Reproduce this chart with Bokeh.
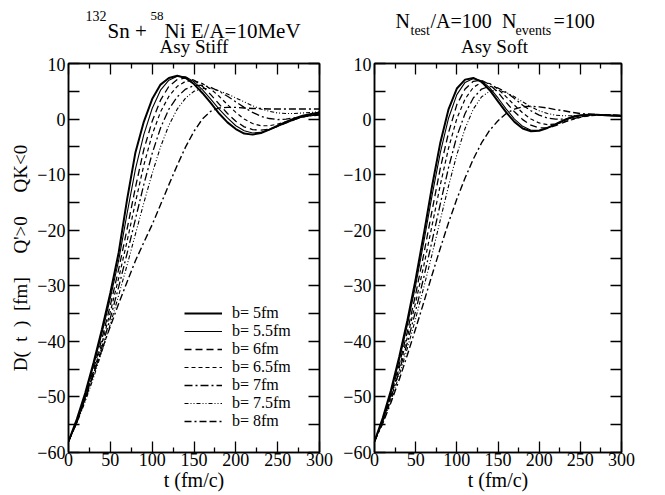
from bokeh.plotting import figure
from bokeh.models import Range1d, FixedTicker, LinearAxis, Label, Legend, LegendItem
from bokeh.layouts import row, column
from bokeh.embed import file_html
from bokeh.resources import INLINE

# ---------------- data ----------------
t = [0, 10, 20, 30, 40, 50, 60, 70, 80, 90, 100, 110, 120, 130, 140, 150,
     160, 170, 180, 190, 200, 210, 220, 230, 240, 250, 260, 270, 280, 290, 300]

impact_labels = ["b= 5fm", "b= 5.5fm", "b= 6fm", "b= 6.5fm", "b= 7fm", "b= 7.5fm", "b= 8fm"]

# Asy Stiff (left panel)
stiff_b50 = [-58.0, -54.0, -49.3, -43.8, -37.8, -31.3, -24.0, -14.5, -6.0, -0.5,
             3.6, 6.2, 7.4, 7.8, 7.4, 6.3, 4.7, 2.9, 1.0, -0.6,
             -1.8, -2.6, -2.8, -2.5, -1.9, -1.2, -0.5, 0.1, 0.6, 0.9, 1.2]
stiff_b55 = [-58.0, -54.2, -49.6, -44.3, -38.5, -32.2, -25.4, -17.0, -9.0, -2.8,
             1.9, 5.2, 7.0, 7.7, 7.6, 6.7, 5.3, 3.6, 1.8, 0.2,
             -1.2, -2.1, -2.5, -2.4, -1.9, -1.3, -0.7, -0.1, 0.4, 0.7, 1.0]
stiff_b60 = [-58.0, -54.4, -50.0, -45.0, -39.5, -33.5, -27.0, -19.8, -12.3, -5.5,
             -0.4, 3.4, 5.9, 7.1, 7.4, 7.0, 5.9, 4.4, 2.7, 1.0,
             -0.4, -1.4, -1.9, -2.0, -1.8, -1.3, -0.7, -0.1, 0.4, 0.7, 0.9]
stiff_b65 = [-58.0, -54.5, -50.2, -45.5, -40.3, -34.7, -28.6, -22.0, -15.0, -8.3,
             -2.8, 1.3, 4.1, 5.9, 6.8, 6.9, 6.4, 5.4, 4.1, 2.6,
             1.2, 0.0, -0.8, -1.2, -1.2, -0.9, -0.5, 0.0, 0.4, 0.6, 0.8]
stiff_b70 = [-58.0, -54.6, -50.5, -46.0, -41.0, -35.8, -30.2, -24.2, -18.0, -11.8,
             -6.2, -1.6, 1.8, 4.0, 5.4, 6.0, 6.1, 5.7, 5.0, 4.1,
             3.1, 2.1, 1.2, 0.5, 0.1, -0.1, 0.0, 0.2, 0.4, 0.6, 0.7]
stiff_b75 = [-58.0, -54.7, -50.8, -46.5, -41.8, -36.9, -31.7, -26.3, -20.7, -15.1,
             -9.8, -5.0, -1.1, 1.8, 3.8, 5.0, 5.5, 5.5, 5.1, 4.5,
             3.8, 3.1, 2.4, 1.8, 1.4, 1.1, 1.0, 1.0, 1.1, 1.2, 1.3]
stiff_b80 = [-58.0, -54.5, -50.2, -45.8, -41.5, -37.3, -33.2, -29.3, -25.5, -22.2,
             -19.0, -15.4, -11.8, -8.3, -5.0, -2.2, 0.0, 1.4, 2.0, 2.1,
             2.1, 2.0, 1.9, 1.9, 1.8, 1.8, 1.8, 1.8, 1.8, 1.8, 1.8]

# Asy Soft (right panel)
soft_b50 = [-58.0, -53.8, -48.8, -42.8, -36.2, -28.8, -20.6, -12.0, -4.2, 1.8,
            5.5, 7.1, 7.4, 6.7, 5.2, 3.2, 1.2, -0.5, -1.7, -2.2,
            -2.1, -1.6, -0.9, -0.2, 0.4, 0.7, 0.8, 0.8, 0.7, 0.6, 0.6]
soft_b55 = [-58.0, -54.0, -49.2, -43.4, -37.0, -29.9, -22.0, -13.7, -6.0, 0.2,
            4.4, 6.6, 7.3, 6.9, 5.6, 3.8, 1.8, 0.0, -1.3, -2.0,
            -2.0, -1.6, -1.0, -0.3, 0.3, 0.6, 0.8, 0.8, 0.7, 0.6, 0.5]
soft_b60 = [-58.0, -54.2, -49.6, -44.2, -38.2, -31.5, -24.2, -16.4, -8.8, -2.4,
            2.6, 5.4, 6.8, 7.0, 6.2, 4.8, 3.0, 1.3, -0.1, -1.1,
            -1.6, -1.6, -1.2, -0.6, 0.0, 0.4, 0.7, 0.8, 0.8, 0.7, 0.6]
soft_b65 = [-58.0, -54.3, -49.9, -44.8, -39.2, -33.0, -26.3, -19.1, -11.8, -5.2,
            0.1, 3.6, 5.7, 6.6, 6.4, 5.4, 4.0, 2.5, 1.1, 0.0,
            -0.7, -1.0, -0.9, -0.5, -0.1, 0.3, 0.6, 0.7, 0.7, 0.7, 0.6]
soft_b70 = [-58.0, -54.4, -50.2, -45.4, -40.2, -34.5, -28.4, -21.9, -15.2, -8.7,
            -3.1, 1.0, 3.8, 5.4, 5.9, 5.6, 4.8, 3.7, 2.5, 1.5,
            0.7, 0.2, 0.0, 0.0, 0.2, 0.4, 0.6, 0.7, 0.7, 0.7, 0.6]
soft_b75 = [-58.0, -54.6, -50.6, -46.1, -41.2, -35.9, -30.2, -24.3, -18.1, -12.0,
            -6.4, -1.7, 1.8, 4.0, 5.0, 5.2, 4.8, 4.0, 3.1, 2.2,
            1.5, 1.0, 0.7, 0.6, 0.6, 0.6, 0.7, 0.7, 0.7, 0.7, 0.7]
soft_b80 = [-58.0, -54.8, -51.0, -46.9, -42.4, -37.7, -32.9, -28.0, -23.2, -18.6,
            -14.4, -10.6, -7.2, -4.3, -2.0, -0.3, 1.0, 1.8, 2.2, 2.3,
            2.2, 2.0, 1.7, 1.5, 1.2, 1.0, 0.9, 0.8, 0.7, 0.7, 0.6]

x_ticks = [0, 50, 100, 150, 200, 250, 300]
x_minor = [25, 75, 125, 175, 225, 275]
y_ticks = [-60, -50, -40, -30, -20, -10, 0, 10]
y_minor = [-55, -45, -35, -25, -15, -5, 5]

stiff_series = [stiff_b50, stiff_b55, stiff_b60, stiff_b65, stiff_b70, stiff_b75, stiff_b80]
soft_series = [soft_b50, soft_b55, soft_b60, soft_b65, soft_b70, soft_b75, soft_b80]

# ---------------- styles ----------------
SERIF = "Liberation Serif"
line_styles = [
    dict(line_width=2.0, line_dash="solid"),
    dict(line_width=1.1, line_dash="solid"),
    dict(line_width=1.3, line_dash="7 4"),
    dict(line_width=1.2, line_dash="4 3"),
    dict(line_width=1.3, line_dash="8 3 2 3"),
    dict(line_width=1.1, line_dash="4 2 1 2 1 2"),
    dict(line_width=1.4, line_dash="7 3 2 3 7 3"),
]

TITLE_H = 57
PANEL_H = 438


def style_axis(ax, ticks, minor, major_in, minor_in, show_labels=True):
    ax.ticker = FixedTicker(ticks=ticks, minor_ticks=minor)
    ax.major_tick_in = major_in
    ax.major_tick_out = 0
    ax.minor_tick_in = minor_in
    ax.minor_tick_out = 0
    ax.axis_line_width = 1.5
    ax.axis_line_color = "black"
    ax.major_tick_line_width = 1.3
    ax.minor_tick_line_width = 1.3
    ax.major_tick_line_color = "black"
    ax.minor_tick_line_color = "black"
    ax.major_label_text_font = SERIF
    if show_labels:
        ax.major_label_text_font_size = "18px"
        ax.major_label_text_color = "black"
        ax.major_label_standoff = 0
    else:
        ax.major_label_text_font_size = "0px"
        ax.major_label_text_color = None
        ax.major_label_standoff = 0


def make_panel(series, width, border_left, border_right, ylabel=None):
    p = figure(width=width, height=PANEL_H,
               x_range=Range1d(0, 300), y_range=Range1d(-60, 10),
               output_backend="svg", toolbar_location=None,
               min_border_left=border_left, min_border_right=border_right,
               min_border_top=6, min_border_bottom=43)
    p.xgrid.visible = False
    p.ygrid.visible = False
    p.outline_line_color = "black"
    p.outline_line_width = 1.5
    p.background_fill_color = "white"
    p.border_fill_color = "white"

    xa = p.xaxis[0]
    style_axis(xa, x_ticks, x_minor, 11, 5)
    xa.axis_label = "t (fm/c)"
    xa.axis_label_text_font = SERIF
    xa.axis_label_text_font_style = "normal"
    xa.axis_label_text_font_size = "20px"
    xa.axis_label_text_color = "black"
    xa.axis_label_standoff = 0

    ya = p.yaxis[0]
    style_axis(ya, y_ticks, y_minor, 11, 11)
    ya.major_label_standoff = 3
    if ylabel:
        ya.axis_label = ylabel
        ya.axis_label_text_font = SERIF
        ya.axis_label_text_font_style = "normal"
        ya.axis_label_text_font_size = "19px"
        ya.axis_label_text_color = "black"
        ya.axis_label_standoff = 3

    top = LinearAxis()
    style_axis(top, x_ticks, x_minor, 11, 5, show_labels=False)
    p.add_layout(top, "above")
    right = LinearAxis()
    style_axis(right, y_ticks, y_minor, 11, 11, show_labels=False)
    p.add_layout(right, "right")

    renderers = []
    for ys, st in zip(series, line_styles):
        r = p.line(t, ys, line_color="black", **st)
        renderers.append(r)
    return p, renderers


ylab = ("D(\u00a0\u00a0t\u00a0\u00a0)\u00a0\u00a0[fm]\u00a0\u00a0\u00a0\u00a0\u00a0"
        "Q'>0\u00a0\u00a0\u00a0\u00a0\u00a0QK<0")

p1, r1 = make_panel(stiff_series, 340, 68, 21, ylabel=ylab)
p2, r2 = make_panel(soft_series, 320, 29, 39)

legend = Legend(items=[LegendItem(label=lab, renderers=[r]) for lab, r in zip(impact_labels, r1)],
                location=(116, 22), orientation="vertical",
                label_text_font=SERIF, label_text_font_size="16px", label_text_color="black",
                glyph_width=38, glyph_height=18, label_height=18, label_standoff=10,
                spacing=0, padding=0, margin=0,
                background_fill_alpha=0, border_line_alpha=0)
p1.add_layout(legend)

# ---------------- title strip ----------------
tf = figure(width=660, height=TITLE_H, x_range=Range1d(0, 660), y_range=Range1d(0, TITLE_H),
            x_axis_type=None, y_axis_type=None, output_backend="svg", toolbar_location=None,
            min_border=0)
tf.xgrid.visible = False
tf.ygrid.visible = False
tf.outline_line_color = None
tf.background_fill_color = "white"
tf.border_fill_color = "white"


def add_text(fig, x, y, text, size, align="left"):
    fig.add_layout(Label(x=x, y=y, x_units="screen", y_units="screen", text=text,
                         text_font=SERIF, text_font_size=size, text_align=align,
                         text_baseline="alphabetic", text_color="black"))


# left: 132Sn + 58Ni E/A=10MeV / Asy Stiff   (y measured up from the strip bottom)
add_text(tf, 85, 41.5, "132", "14px")
add_text(tf, 107, 27, "Sn +", "21px")
add_text(tf, 150, 41.5, "58", "13px")
add_text(tf, 164, 27, "Ni E/A=10MeV", "21px")
add_text(tf, 193.5, 11, "Asy Stiff", "19px", align="center")
# right: Ntest/A=100  Nevents=100 / Asy Soft
add_text(tf, 395, 36.3, "N", "20px")
add_text(tf, 410, 27, "test", "14px")
add_text(tf, 430, 36.3, "/A=100", "20px")
add_text(tf, 501.5, 36.3, "N", "20px")
add_text(tf, 515, 27, "events", "14px")
add_text(tf, 553, 36.3, "=100", "20px")
add_text(tf, 494, 11, "Asy Soft", "19px", align="center")

layout = column(tf, row(p1, p2))
open("out.html", "w").write(file_html(layout, INLINE))
